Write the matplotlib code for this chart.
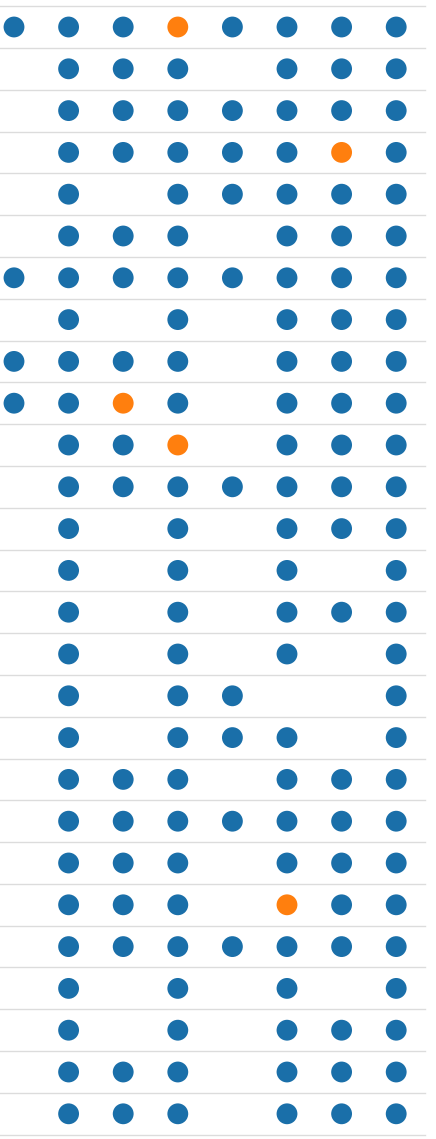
import numpy as np
import matplotlib
matplotlib.use("Agg")
import matplotlib.pyplot as plt

# one string per row, 8 columns: 1 = blue dot, O = orange dot, 0 = empty
rows = [
    "111O1111",
    "01110111",
    "01111111",
    "011111O1",
    "01011111",
    "01110111",
    "11111111",
    "01010111",
    "11110111",
    "11O10111",
    "011O0111",
    "01111111",
    "01010111",
    "01010101",
    "01010111",
    "01010101",
    "01011001",
    "01011101",
    "01110111",
    "01111111",
    "01110111",
    "01110O11",
    "01111111",
    "01010101",
    "01010111",
    "01110111",
    "01110111",
]
blue = "#1a6fa9"
orange = "#ff7f0e"

n_rows = len(rows)
n_cols = len(rows[0])

fig = plt.figure(figsize=(4.36, 11.39), dpi=100)
ax = fig.add_axes([0, 0, 1, 1])

col_px = 54.6
row_px = 41.8
xmin = -14 / col_px
xmax = (436 - 14) / col_px
ymin = -27 / row_px
ymax = (1139 - 27) / row_px

# row separators
for r in range(n_rows + 1):
    ax.plot([xmin, (425 - 14) / col_px], [r - 0.5, r - 0.5], color="#dcdcdc", lw=1.0, zorder=1)

bx, by, ox, oy = [], [], [], []
for r, row in enumerate(rows):
    for c, v in enumerate(row):
        if v == "1":
            bx.append(c); by.append(r)
        elif v == "O":
            ox.append(c); oy.append(r)

ax.scatter(bx, by, s=225, color=blue, edgecolors="none", zorder=3)
ax.scatter(ox, oy, s=225, color=orange, edgecolors="none", zorder=3)

ax.set_xlim(xmin, xmax)
ax.set_ylim(ymax, ymin)
ax.axis("off")

fig.savefig("out.png", dpi=100, facecolor="white")
